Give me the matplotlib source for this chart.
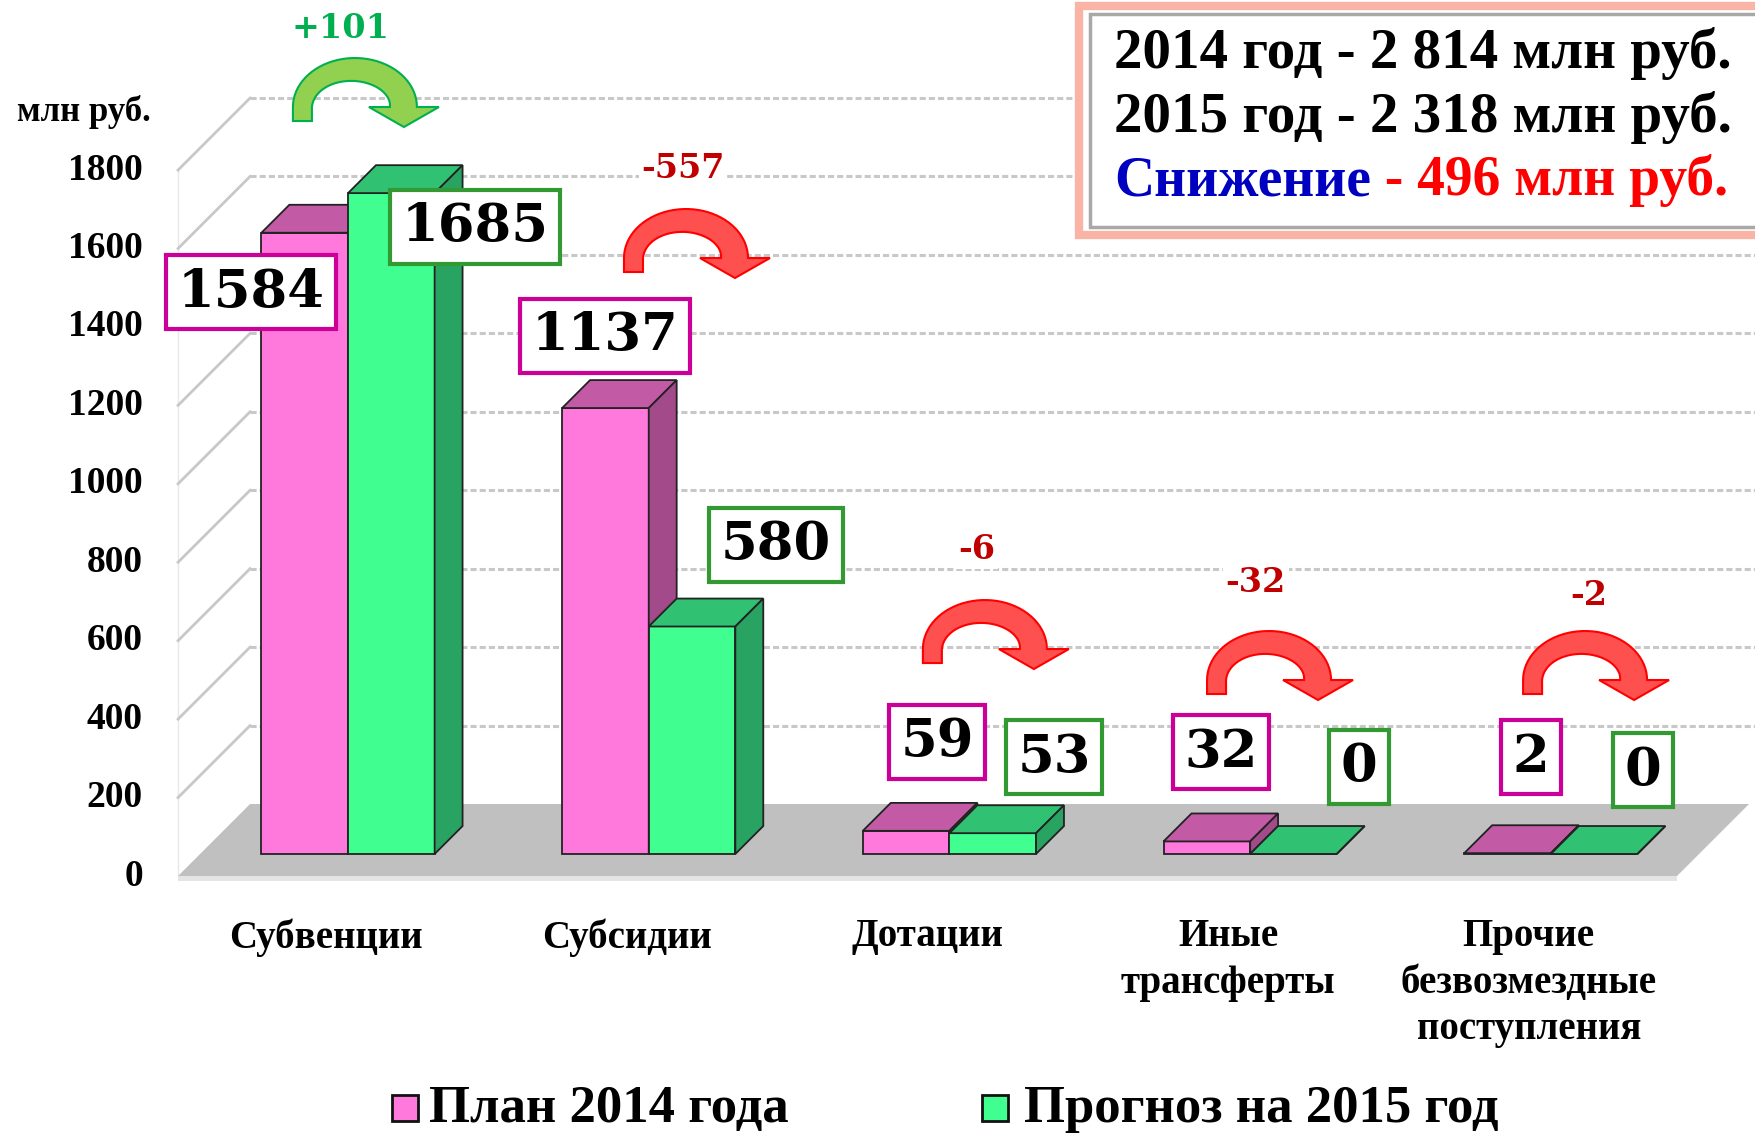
import matplotlib
matplotlib.use("Agg")
import matplotlib.pyplot as plt
import matplotlib.transforms as mtransforms
from matplotlib.patches import Polygon, Rectangle
import numpy as np

# данные
categories = ["Субвенции", "Субсидии", "Дотации", "Иные\nтрансферты",
              "Прочие\nбезвозмездные\nпоступления"]
plan_2014 = [1584, 1137, 59, 32, 2]
forecast_2015 = [1685, 580, 53, 0, 0]
deltas = ["+101", "-557", "-6", "-32", "-2"]
y_ticks = [0, 200, 400, 600, 800, 1000, 1200, 1400, 1600, 1800]
summary_lines = ["2014 год - 2 814 млн руб.", "2015 год - 2 318 млн руб."]
summary_drop = ("Снижение", " - 496 млн руб.")
legend_labels = ["План 2014 года", "Прогноз на 2015 год"]

# позиции подписей (в координатах осей)
label_pos_plan = [(-0.249, 1489), (0.928, 1377), (2.032, 342), (2.976, 316), (4.007, 303)]
label_pos_fc = [(0.496, 1655), (1.497, 844), (2.421, 303), (3.435, 278), (4.380, 270)]
delta_pos = [(0.047, 2162), (1.187, 1805), (2.165, 832), (3.092, 748), (4.200, 715)]
arrow_pos = [(-0.110, 1925), (0.991, 1540), (1.985, 543), (2.930, 464), (3.981, 464)]

PINK = ("#ff78dc", "#c35aa6", "#a24a8a")
GREEN = ("#40ff90", "#30c173", "#28a361")

W, H = 1756, 1136
fig = plt.figure(figsize=(W / 100, H / 100), dpi=100)
ax = fig.add_axes([0, 0, 1, 1])
SX, SY = 300.7, 0.3922            # пикселей на единицу
X0, Y0 = 326, 876                 # пиксель для (0, 0)
ax.set_xlim(-X0 / SX, (W - X0) / SX)
ax.set_ylim(-(H - Y0) / SY, Y0 / SY)
ax.axis("off")

DX, DY = 72 / SX, 72 / SY         # полная глубина
XL, XR = -0.492, 4.493            # края пола
serif = "Liberation Serif"

# пол
floor = Polygon([(XL, 0), (XR, 0), (XR + DX, DY), (XL + DX, DY)],
                closed=True, fc="#c0c0c0", ec="none", zorder=1)
ax.add_patch(floor)
ax.add_patch(Polygon([(XL, 0), (XR, 0), (XR, -12), (XL, -12)], closed=True,
                     fc="#e4e4e4", ec="none", zorder=1))

# стенки и сетка
ax.plot([XL, XL], [0, 1800], color="#e8e8e8", lw=1, zorder=0)
for v in y_ticks[1:]:
    ax.plot([XL, XL + DX], [v, v + DY], color="#c8c8c8", lw=2, zorder=0)
    ax.plot([XL + DX, 5], [v + DY, v + DY], color="#c8c8c8", lw=2.2,
            ls=(0, (2, 1)), zorder=0)

for v in y_ticks:
    ax.text(-0.609, v, str(v), ha="right", va="center", fontsize=27,
            fontweight="bold", family=serif)
ax.text(-0.805, 1948, "млн руб.", ha="center", va="center", fontsize=25,
        fontweight="bold", family=serif)

# столбики
BAR_W = 0.288
F1, F2 = 0.306, 0.694


def draw_box(x0, h, cols, z):
    y0 = F1 * DY
    ddx, ddy = (F2 - F1) * DX, (F2 - F1) * DY
    front = [(x0, y0), (x0 + BAR_W, y0), (x0 + BAR_W, y0 + h), (x0, y0 + h)]
    top = [(x0, y0 + h), (x0 + BAR_W, y0 + h), (x0 + BAR_W + ddx, y0 + h + ddy),
           (x0 + ddx, y0 + h + ddy)]
    side = [(x0 + BAR_W, y0), (x0 + BAR_W + ddx, y0 + ddy),
            (x0 + BAR_W + ddx, y0 + h + ddy), (x0 + BAR_W, y0 + h)]
    for pts, c in ((front, cols[0]), (top, cols[1]), (side, cols[2])):
        ax.add_patch(Polygon(pts, closed=True, fc=c, ec="#222222", lw=1.3, zorder=z))


for i, (p, g) in enumerate(zip(plan_2014, forecast_2015)):
    left = i + F1 * DX - BAR_W
    draw_box(left, p, PINK, 3)
    draw_box(left + BAR_W, g, GREEN, 4)


# изогнутые стрелки
def arrow_shape():
    cx, cy, a, b = 62, 14, 62, 49
    th = np.linspace(np.pi, 0, 40)
    t = 19 + (27 - 19) * (np.pi - th) / np.pi
    outer = np.column_stack([cx + a * np.cos(th), cy + b * np.sin(th)])
    inner = np.column_stack([cx + (a - t) * np.cos(th), cy + (b - t) * np.sin(th)])[::-1]
    pts = [(19, 0), (0, 0)] + outer.tolist() + [(146, 14), (111, -6), (76, 14)] \
        + inner.tolist() + [(19, 0)]
    return pts


shape = arrow_shape()
for i, (x, y) in enumerate(arrow_pos):
    up = deltas[i].startswith("+")
    tr = mtransforms.Affine2D() + mtransforms.ScaledTranslation(x, y, ax.transData)
    ax.add_patch(Polygon(shape, closed=True, transform=tr,
                         fc="#92d050" if up else "#ff5050",
                         ec="#00b050" if up else "#ff0000", lw=1.5, zorder=6))
    dx, dy = delta_pos[i]
    ax.text(dx, dy, deltas[i], ha="center", va="center", fontsize=24,
            fontweight="bold", family="DejaVu Serif",
            color="#00b050" if up else "#c00000", zorder=6,
            bbox=dict(fc="white", ec="none", pad=2))

# подписи значений
for vals, pos, ec in ((plan_2014, label_pos_plan, "#cc0099"),
                      (forecast_2015, label_pos_fc, "#339933")):
    for v, (x, y) in zip(vals, pos):
        ax.text(x, y, str(v), ha="center", va="center", fontsize=38,
                fontweight="bold", family="DejaVu Serif", zorder=8,
                bbox=dict(boxstyle="square,pad=0.22", fc="white", ec=ec, lw=3))

# категории
for i, c in enumerate(categories):
    ax.text(i, -108, c, ha="center", va="top", fontsize=28, fontweight="bold",
            family=serif, linespacing=1.33)

# легенда
for (sx, tx), lab, col in zip(((0.219, 0.343), (2.182, 2.321)), legend_labels,
                              (PINK[0], GREEN[0])):
    ax.add_patch(Rectangle((sx, -625), 26 / SX, 26 / SY, fc=col, ec="#111111",
                           lw=2, zorder=5))
    ax.text(tx, -594, lab, ha="left", va="center", fontsize=38, fontweight="bold",
            family=serif)

# рамка с итогами
ax.add_patch(Rectangle((2.504, 1634), 3, 584, fc="white", ec="#f9b4a6", lw=6,
                       zorder=9))
ax.add_patch(Rectangle((2.541, 1655), 3, 543, fc="white", ec="#a8a8a8", lw=2.5,
                       zorder=9))
for line, yv in zip(summary_lines, (2096, 1933)):
    ax.text(2.621, yv, line, ha="left", va="center", fontsize=41, fontweight="bold",
            family=serif, zorder=10)
t1 = ax.text(2.621, 1772, summary_drop[0], ha="left", va="center", fontsize=40,
             fontweight="bold", family=serif, color="#0000c0", zorder=10)
ax.annotate(summary_drop[1], xy=(1, 0), xycoords=t1, ha="left", va="bottom",
            fontsize=40, fontweight="bold", family=serif, color="#ff0000", zorder=10)

fig.savefig("out.png", dpi=100)
